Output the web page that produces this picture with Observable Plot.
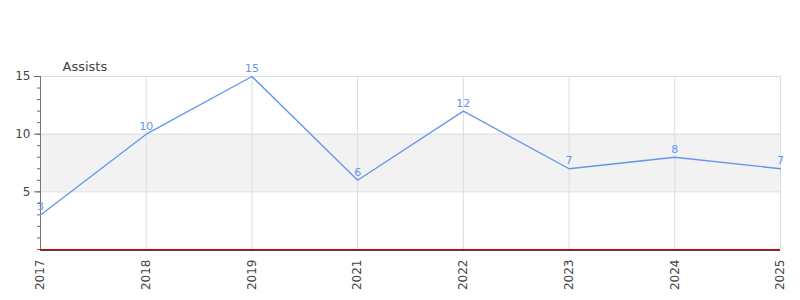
<!DOCTYPE html>
<html>
<head>
<meta charset="utf-8">
<script src="https://cdn.jsdelivr.net/npm/d3@7"></script>
<script src="https://cdn.jsdelivr.net/npm/@observablehq/plot@0.6"></script>
<style>
  body { margin: 0; background: #fff; }
  svg { display: block; }
</style>
</head>
<body>
<div id="chart"></div>
<script>
const years = ["2017", "2018", "2019", "2021", "2022", "2023", "2024", "2025"];
const assists = [3, 10, 15, 6, 12, 7, 8, 7];
const title = "Assists";
const yMajorTicks = [5, 10, 15];
const yMinorTicks = d3.range(0, 16, 1);
const band = [{lo: 5, hi: 10}];

const data = years.map((y, i) => ({year: y, value: assists[i]}));
const blue = "#6495ed";

const chart = Plot.plot({
  width: 800,
  height: 300,
  marginTop: 76,
  marginBottom: 51,
  marginLeft: 40,
  marginRight: 20,
  style: {fontFamily: "DejaVu Sans", fontSize: "11px", color: "#444", background: "#fff"},
  x: {type: "point", domain: years, padding: 0, round: false},
  y: {domain: [0, 15]},
  marks: [
    Plot.rectY(band, {y1: "lo", y2: "hi", fill: "#f2f2f2"}),
    Plot.gridY(yMajorTicks, {stroke: "#ddd", strokeOpacity: 1}),
    Plot.gridX(years, {stroke: "#ddd", strokeOpacity: 1}),
    Plot.axisY(yMinorTicks, {tickSize: 3, tickFormat: () => "", stroke: "#666", label: null}),
    Plot.axisY(yMajorTicks, {tickSize: 6, tickPadding: 4, stroke: "#666", fill: "#444", fontSize: 12, label: null}),
    Plot.ruleX([years[0]], {stroke: "#777"}),
    Plot.axisX(years, {tickSize: 0, tickPadding: 10, tickRotate: -90, fill: "#444", fontSize: 12, label: null}),
    Plot.ruleY([0], {stroke: "#444", dy: 1}),
    Plot.ruleY([0], {stroke: "#e00000"}),
    Plot.line(data, {x: "year", y: "value", stroke: blue, strokeWidth: 1.3}),
    Plot.text(data, {x: "year", y: "value", text: d => String(d.value), dy: -8, fill: blue, fontSize: 11}),
    Plot.text([title], {frameAnchor: "top-left", dx: 22, dy: -10, lineAnchor: "middle", text: d => d, fill: "#444", fontSize: 13, textAnchor: "start"})
  ]
});
document.getElementById("chart").appendChild(chart);
</script>
</body>
</html>
